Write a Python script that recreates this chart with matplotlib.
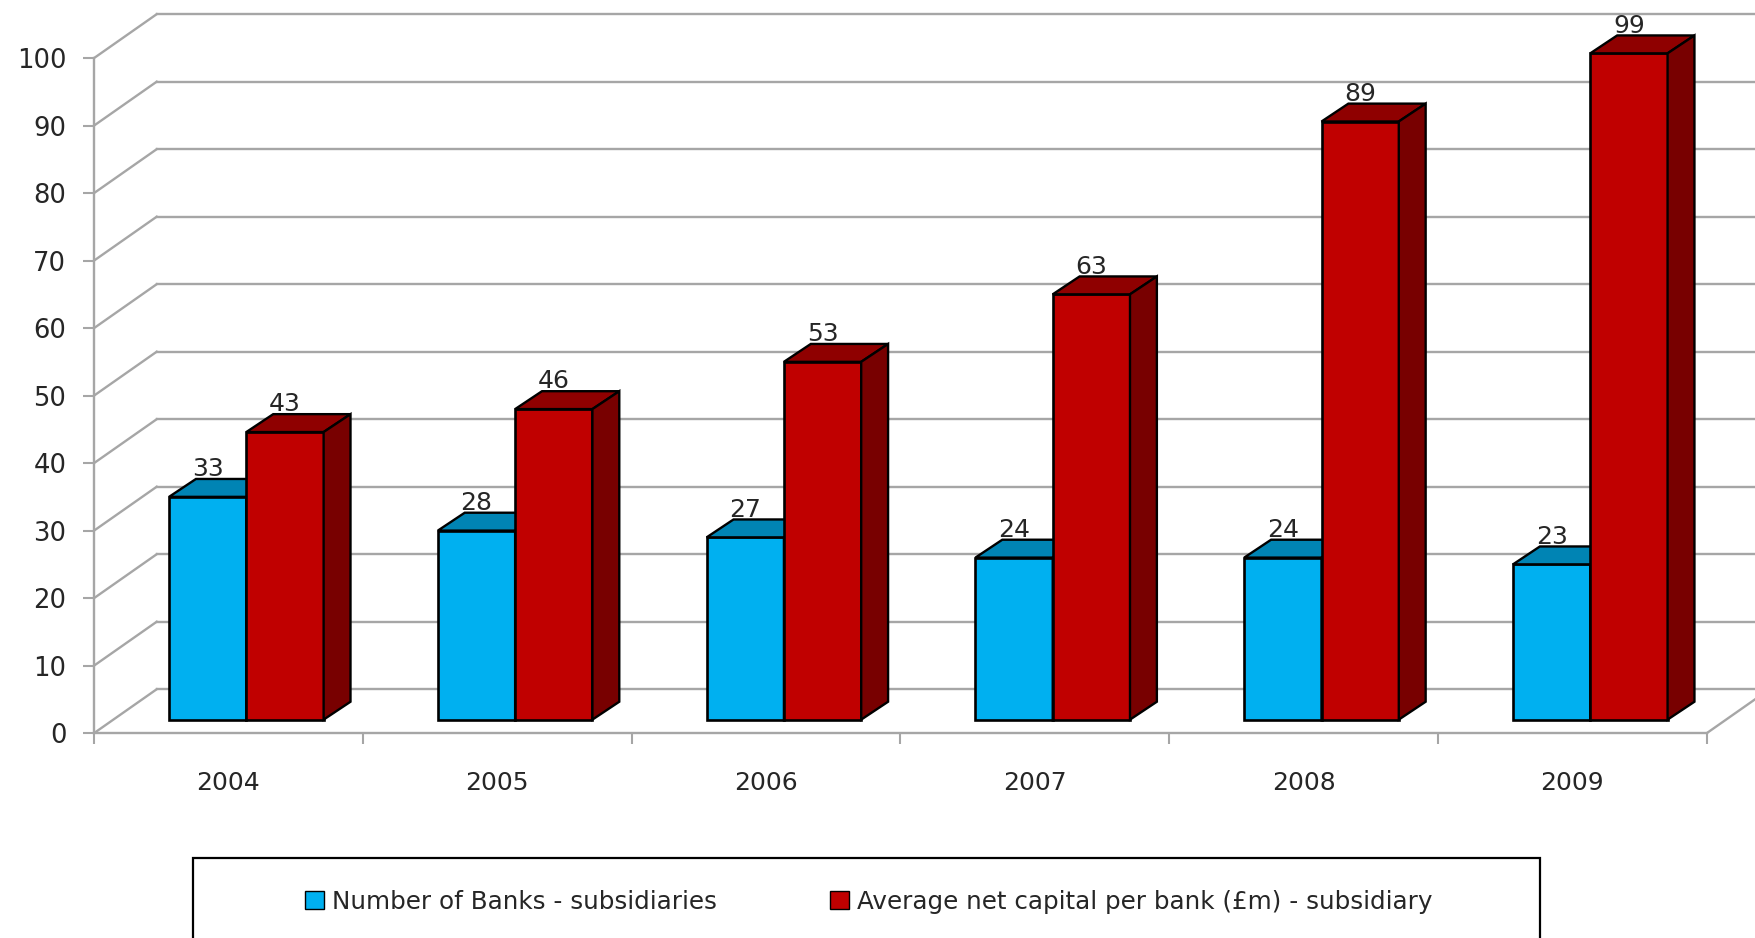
import matplotlib

matplotlib.use("Agg")

import matplotlib.patches as ptc
import matplotlib.pyplot as plt

YEARS = ["2004", "2005", "2006", "2007", "2008", "2009"]
BANKS = [33, 28, 27, 24, 24, 23]
# bar heights sit a little under the rounded labels on some years
CAPITAL = [42.6, 46, 53, 63, 88.6, 98.7]
SERIES_NAMES = ["Number of Banks - subsidiaries", "Average net capital per bank (£m) - subsidiary"]
Y_TICKS = list(range(0, 101, 10))

GRID = "#a6a6a6"
TEXT = "#262626"
BLUE = {"front": "#00b0f0", "top": "#0084b4", "side": "#00688e"}
RED = {"front": "#c00000", "top": "#8f0000", "side": "#780000"}

# 3d look, in data units
WALL_DX, WALL_DY = 0.233, 6.5
BAR_DX, BAR_DY = 0.1, 2.65
BAR_BASE = 2.0
BAR_W = 0.2875
BAR_START = 0.279


def draw_bar(ax, x, value, colors):
    top = BAR_BASE + value
    ax.bar(x, value, BAR_W, bottom=BAR_BASE, align="edge", color=colors["front"],
           edgecolor="black", linewidth=1.9, zorder=4)
    top_face = [(x, top), (x + BAR_DX, top + BAR_DY), (x + BAR_W + BAR_DX, top + BAR_DY), (x + BAR_W, top)]
    side_face = [(x + BAR_W, BAR_BASE), (x + BAR_W + BAR_DX, BAR_BASE + BAR_DY),
                 (x + BAR_W + BAR_DX, top + BAR_DY), (x + BAR_W, top)]
    for pts, c in ((top_face, colors["top"]), (side_face, colors["side"])):
        ax.add_patch(ptc.Polygon(pts, closed=True, facecolor=c, edgecolor="black", linewidth=1.7, zorder=4))
    ax.text(x + BAR_W / 2, top + 4.1, str(round(value)), ha="center", va="center",
            fontsize=18, color=TEXT, zorder=3)


fig = plt.figure(figsize=(17.56, 9.38), dpi=100)
ax = fig.add_axes([0, 0, 1, 1])
ax.set_xlim(-0.35, 6.183)
ax.set_ylim(-30.35, 108.6)

# side wall and back wall
for v in Y_TICKS:
    ax.plot([0, WALL_DX], [v, v + WALL_DY], color=GRID, lw=1.7, zorder=1)
    ax.plot([WALL_DX, 6.3], [v + WALL_DY, v + WALL_DY], color=GRID, lw=1.7, zorder=1)
ax.plot([6, 6 + WALL_DX], [0, WALL_DY], color=GRID, lw=1.7, zorder=1)

# blue goes in first, the red bar hides its side
for i, year in enumerate(YEARS):
    draw_bar(ax, i + BAR_START, BANKS[i], BLUE)
    draw_bar(ax, i + BAR_START + BAR_W, CAPITAL[i], RED)

for name in ("top", "right"):
    ax.spines[name].set_visible(False)
for name in ("left", "bottom"):
    ax.spines[name].set_position(("data", 0))
    ax.spines[name].set_color(GRID)
    ax.spines[name].set_linewidth(1.7)
ax.spines["left"].set_bounds(0, 100)
ax.spines["bottom"].set_bounds(0, 6)

ax.set_yticks(Y_TICKS)
ax.tick_params(axis="y", length=8, width=1.5, color=GRID, labelsize=18.6, labelcolor=TEXT, pad=12)
ax.set_xticks(range(7))
ax.set_xticklabels([])
ax.tick_params(axis="x", which="major", length=8, width=1.5, color=GRID)
ax.set_xticks([i + 0.5 for i in range(6)], minor=True)
ax.set_xticklabels(YEARS, minor=True)
ax.tick_params(axis="x", which="minor", length=0, labelsize=18, labelcolor=TEXT, pad=27)

# legend box runs off the bottom of the picture
ax.add_patch(ptc.Rectangle((0.1097, -0.05), 0.7672, 0.1348, transform=ax.transAxes,
                           facecolor="white", edgecolor="black", linewidth=1.6, zorder=5))
handles = [ptc.Patch(facecolor=BLUE["front"], edgecolor="black", label=SERIES_NAMES[0]),
           ptc.Patch(facecolor=RED["front"], edgecolor="black", label=SERIES_NAMES[1])]
leg = ax.legend(handles=handles, ncol=2, frameon=False, loc="center", bbox_to_anchor=(0.4946, 0.0385),
                fontsize=17.75, labelcolor=TEXT, handlelength=0.76, handleheight=0.76,
                handletextpad=0.32, columnspacing=4.6)
leg.set_zorder(6)

fig.savefig("out.png", dpi=100, facecolor="white")
